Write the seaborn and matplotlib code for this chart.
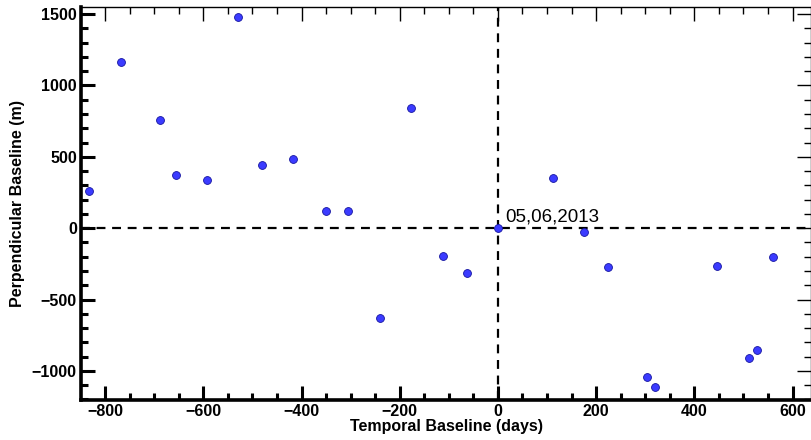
import numpy as np
import pandas as pd
import matplotlib.pyplot as plt
import seaborn as sns
from matplotlib.ticker import MultipleLocator

# temporal / perpendicular baselines
temporal = [-833, -767, -688, -655, -592, -529, -480, -417, -351, -305,
            -240, -176, -112, -63, 0, 112, 176, 224, 304, 320,
            447, 512, 528, 560]
perpendicular = [259, 1162, 756, 371, 336, 1478, 441, 483, 119, 122,
                 -630, 845, -198, -317, 0, 352, -25, -273, -1046, -1111,
                 -266, -910, -852, -205]
master_label = "05,06,2013"

df = pd.DataFrame({"Temporal": temporal, "Perp": perpendicular})

sns.set_style("ticks", {'axes.edgecolor': 'black', 'text.color': 'black',
                        'axes.labelcolor': 'black', 'xtick.color': 'black',
                        'ytick.color': 'black'})
plt.rcParams['font.family'] = ['Liberation Sans', 'DejaVu Sans']

fig = plt.figure(figsize=(8.12, 4.4), dpi=100)
ax = fig.add_axes([0.0998, 0.0909, 0.8992, 0.893])

ax.axhline(0, color='black', ls=(0, (4, 3)), lw=1.6, zorder=1)
ax.axvline(0, color='black', ls=(0, (4, 3)), lw=1.6, zorder=1)

sns.scatterplot(data=df, x="Temporal", y="Perp", ax=ax, s=32,
                color='#3b3bff', edgecolor='#1515a0', linewidth=0.6, zorder=3)

ax.text(15, 22, master_label, fontsize=13.5, ha='left', va='bottom')

ax.set_xlim(-849, 638)
ax.set_ylim(-1204, 1549)
ax.xaxis.set_major_locator(MultipleLocator(200))
ax.xaxis.set_minor_locator(MultipleLocator(50))
ax.yaxis.set_major_locator(MultipleLocator(500))
ax.yaxis.set_minor_locator(MultipleLocator(100))

ax.tick_params(which='both', top=False, right=False)
ax.tick_params(which='major', direction='in', length=10, width=2.2,
               labelsize=11.5, pad=3)
ax.tick_params(which='minor', direction='in', length=5, width=2.2)
for lab in ax.get_xticklabels() + ax.get_yticklabels():
    lab.set_fontweight('bold')

ax.set_xlabel("Temporal Baseline (days)", fontsize=11.5, fontweight='bold', labelpad=0)
ax.set_ylabel("Perpendicular Baseline (m)", fontsize=11.5, fontweight='bold', labelpad=5)

ax.spines['bottom'].set_linewidth(2.6)
ax.spines['left'].set_linewidth(2.6)
ax.spines['top'].set_visible(False)
ax.spines['right'].set_visible(False)

# thin ticks on top and right
top = ax.secondary_xaxis('top')
top.xaxis.set_major_locator(MultipleLocator(200))
top.xaxis.set_minor_locator(MultipleLocator(50))
top.tick_params(which='major', direction='in', length=10, width=1, labeltop=False)
top.tick_params(which='minor', direction='in', length=5, width=1)
top.spines['top'].set_linewidth(1.0)

right = ax.secondary_yaxis('right')
right.yaxis.set_major_locator(MultipleLocator(500))
right.yaxis.set_minor_locator(MultipleLocator(100))
right.tick_params(which='major', direction='in', length=10, width=1, labelright=False)
right.tick_params(which='minor', direction='in', length=5, width=1)
right.spines['right'].set_linewidth(1.0)

fig.savefig("out.png", dpi=100)
